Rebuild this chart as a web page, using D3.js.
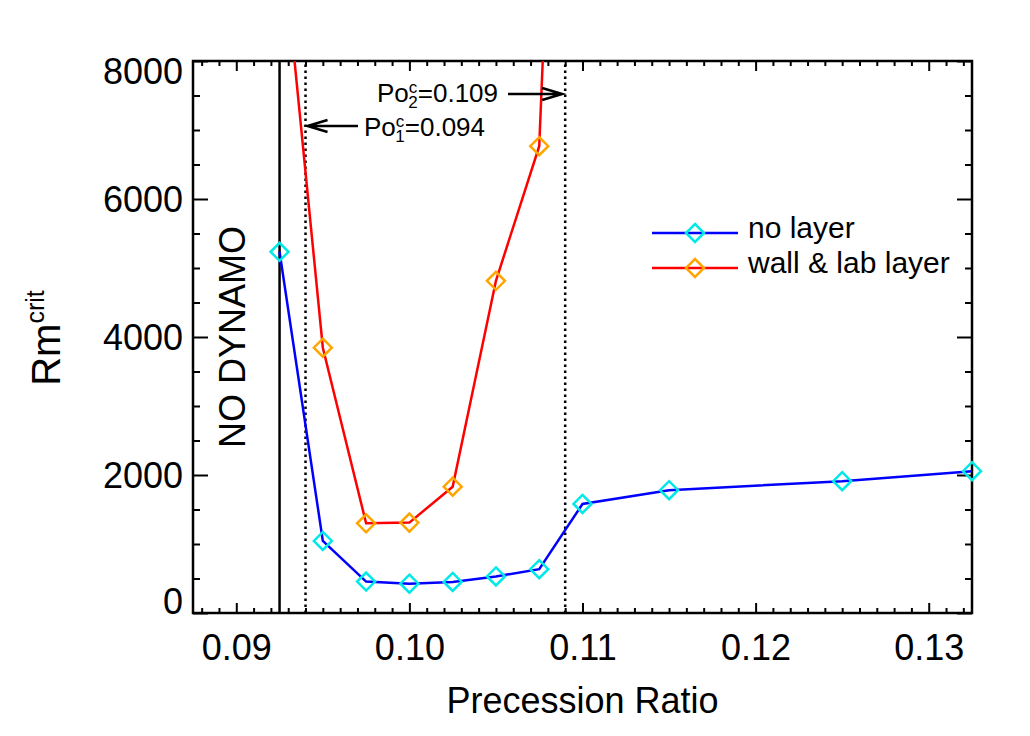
<!DOCTYPE html>
<html>
<head>
<meta charset="utf-8">
<script src="https://cdn.jsdelivr.net/npm/d3@7"></script>
<style>
    body { margin: 0; background: #fff; }
    svg text { font-family: "Liberation Sans", Arial, Helvetica, sans-serif; fill: #000; }
</style>
</head>
<body>
<div id="chart"></div>
<script>
// precession ratio / critical Rm
var noLayerPo = [0.0925, 0.095, 0.0975, 0.100, 0.1025, 0.105, 0.1075, 0.110, 0.115, 0.125, 0.1325];
var noLayerRm = [5235, 1045, 455, 425, 450, 530, 635, 1580, 1780, 1910, 2055];

var layerPo = [0.0925, 0.095, 0.0975, 0.100, 0.1025, 0.105, 0.1075, 0.110];
var layerRm = [10200, 3845, 1300, 1310, 1830, 4815, 6765, 22000];

var xTicks = [0.09, 0.10, 0.11, 0.12, 0.13];
var yTicks = [0, 2000, 4000, 6000, 8000];

var noDynamoPo = 0.0925;
var critPo = [0.094, 0.109];

var width = 1030, height = 736;
var margin = { top: 61, left: 193, right: 58, bottom: 123 };

var svg = d3.select("#chart")
    .append("svg")
    .attr("width", width)
    .attr("height", height);

/*
SCALES
*/
var xScale = d3.scaleLinear()
    .domain([0.0875, 0.1325])
    .range([margin.left, width - margin.right]);

var yScale = d3.scaleLinear()
    .domain([0, 8000])
    .range([height - margin.bottom, margin.top]);

var x0 = xScale.range()[0], x1 = xScale.range()[1];
var y0 = yScale.range()[0], y1 = yScale.range()[1];

// minor ticks every 0.001 and every 500
var xMinor = d3.range(88, 133).map(function(d) { return d / 1000; })
    .filter(function(d) { return Math.abs(d * 100 - Math.round(d * 100)) > 1e-6; });
var yMinor = d3.range(500, 8000, 500).filter(function(d) { return d % 2000 !== 0; });

/*
AXES (ticks pointing inward on all four sides)
*/
function styleAxis(g) {
    g.select(".domain").remove();
    g.selectAll(".tick line").attr("stroke", "#000").attr("stroke-width", 2);
}

svg.append("g")
    .attr("transform", `translate(0, ${y0})`)
    .call(d3.axisBottom(xScale).tickValues(xTicks).tickSize(-10).tickSizeOuter(0)
        .tickFormat(d3.format(".2f")))
    .call(styleAxis)
    .call(function(g) {
        g.selectAll(".tick text")
            .attr("y", 47).attr("dy", null)
            .style("font-size", "36px");
    });

svg.append("g")
    .attr("transform", `translate(0, ${y0})`)
    .call(d3.axisBottom(xScale).tickValues(xMinor).tickSize(-5).tickFormat(""))
    .call(styleAxis);

svg.append("g")
    .attr("transform", `translate(0, ${y1})`)
    .call(d3.axisTop(xScale).tickValues(xTicks).tickSize(-10).tickFormat(""))
    .call(styleAxis);

svg.append("g")
    .attr("transform", `translate(0, ${y1})`)
    .call(d3.axisTop(xScale).tickValues(xMinor).tickSize(-5).tickFormat(""))
    .call(styleAxis);

svg.append("g")
    .attr("transform", `translate(${x0}, 0)`)
    .call(d3.axisLeft(yScale).tickValues(yTicks).tickSize(-15).tickPadding(11)
        .tickFormat(d3.format("d")))
    .call(styleAxis)
    .call(function(g) {
        g.selectAll(".tick text")
            .attr("x", -10)
            .attr("dy", function(d) {
                if (d === 8000) return "22px";
                if (d === 0) return "0px";
                return "12.5px";
            })
            .style("font-size", "36px");
    });

svg.append("g")
    .attr("transform", `translate(${x0}, 0)`)
    .call(d3.axisLeft(yScale).tickValues(yMinor).tickSize(-7).tickFormat(""))
    .call(styleAxis);

svg.append("g")
    .attr("transform", `translate(${x1}, 0)`)
    .call(d3.axisRight(yScale).tickValues(yTicks).tickSize(-15).tickFormat(""))
    .call(styleAxis);

svg.append("g")
    .attr("transform", `translate(${x1}, 0)`)
    .call(d3.axisRight(yScale).tickValues(yMinor).tickSize(-7).tickFormat(""))
    .call(styleAxis);

// frame
svg.append("rect")
    .attr("x", x0).attr("y", y1)
    .attr("width", x1 - x0).attr("height", y0 - y1)
    .attr("fill", "none")
    .attr("stroke", "#000")
    .attr("stroke-width", 2.5);

/*
AXIS LABELS
*/
svg.append("text")
    .attr("x", (x0 + x1) / 2)
    .attr("y", 713)
    .attr("text-anchor", "middle")
    .style("font-size", "36px")
    .text("Precession Ratio");

var yLabel = svg.append("text")
    .attr("transform", "translate(60, 338) rotate(-90)")
    .attr("text-anchor", "middle")
    .style("font-size", "40px");
yLabel.append("tspan").text("Rm");
yLabel.append("tspan").attr("dy", -16).style("font-size", "25px").text("crit");

/*
REFERENCE LINES
*/
svg.append("line")
    .attr("x1", xScale(noDynamoPo)).attr("x2", xScale(noDynamoPo))
    .attr("y1", y0).attr("y2", y1)
    .attr("stroke", "#000")
    .attr("stroke-width", 2.5);

svg.selectAll(".crit")
    .data(critPo)
    .enter()
    .append("line")
    .attr("class", "crit")
    .attr("x1", function(d) { return xScale(d); })
    .attr("x2", function(d) { return xScale(d); })
    .attr("y1", y0).attr("y2", y1)
    .attr("stroke", "#000")
    .attr("stroke-width", 2.5)
    .attr("stroke-dasharray", "2.5,3.5");

svg.append("text")
    .attr("transform", `translate(245, 337) rotate(-90)`)
    .attr("text-anchor", "middle")
    .style("font-size", "36px")
    .text("NO DYNAMO");

/*
DATA
*/
svg.append("clipPath")
    .attr("id", "plotClip")
    .append("rect")
    .attr("x", x0).attr("y", y1)
    .attr("width", x1 - x0).attr("height", y0 - y1);

var line = d3.line()
    .x(function(d) { return xScale(d[0]); })
    .y(function(d) { return yScale(d[1]); });

var series = [
    { name: "no layer", po: noLayerPo, rm: noLayerRm, line: "#0000ff", mark: "#00e8e8" },
    { name: "wall & lab layer", po: layerPo, rm: layerRm, line: "#ff0000", mark: "#ffa500" }
];

function diamond(cx, cy, r) {
    return `M${cx},${cy - r}L${cx + r},${cy}L${cx},${cy + r}L${cx - r},${cy}Z`;
}

series.forEach(function(s) {
    var pts = s.po.map(function(p, i) { return [p, s.rm[i]]; });

    svg.append("path")
        .datum(pts)
        .attr("clip-path", "url(#plotClip)")
        .attr("d", line)
        .attr("fill", "none")
        .attr("stroke", s.line)
        .attr("stroke-width", 2.5);

    svg.selectAll(null)
        .data(pts.filter(function(d) { return d[1] <= 8000; }))
        .enter()
        .append("path")
        .attr("d", function(d) { return diamond(xScale(d[0]), yScale(d[1]), 9); })
        .attr("fill", "none")
        .attr("stroke", s.mark)
        .attr("stroke-width", 2.5);
});

/*
LEGEND
*/
series.forEach(function(s, i) {
    var ly = 233 + i * 35;
    svg.append("line")
        .attr("x1", 652).attr("x2", 738)
        .attr("y1", ly).attr("y2", ly)
        .attr("stroke", s.line)
        .attr("stroke-width", 2.5);
    svg.append("path")
        .attr("d", diamond(695, ly, 9))
        .attr("fill", "none")
        .attr("stroke", s.mark)
        .attr("stroke-width", 2.5);
    svg.append("text")
        .attr("x", 748)
        .attr("y", ly + 5)
        .style("font-size", "30px")
        .text(s.name);
});

/*
ANNOTATIONS
*/
function poLabel(x, y, sub, value) {
    var t = svg.append("text")
        .attr("x", x).attr("y", y)
        .style("font-size", "26px");
    t.append("tspan").text("Po");
    t.append("tspan").attr("dy", -9).style("font-size", "17px").text("c");
    t.append("tspan").attr("dx", -9).attr("dy", 15).style("font-size", "17px").text(sub);
    t.append("tspan").attr("dy", -6).text("=" + value);
}

function arrow(xTail, xTip, y) {
    var dir = xTip > xTail ? 1 : -1;
    svg.append("path")
        .attr("d", `M${xTail},${y}L${xTip},${y}M${xTip - dir * 20},${y - 6}L${xTip},${y}L${xTip - dir * 20},${y + 6}`)
        .attr("fill", "none")
        .attr("stroke", "#000")
        .attr("stroke-width", 2.5);
}

poLabel(377, 102, "2", "0.109");
arrow(508, xScale(critPo[1]) - 3, 94);

poLabel(364, 136, "1", "0.094");
arrow(358, xScale(critPo[0]) + 2, 126);
</script>
</body>
</html>
